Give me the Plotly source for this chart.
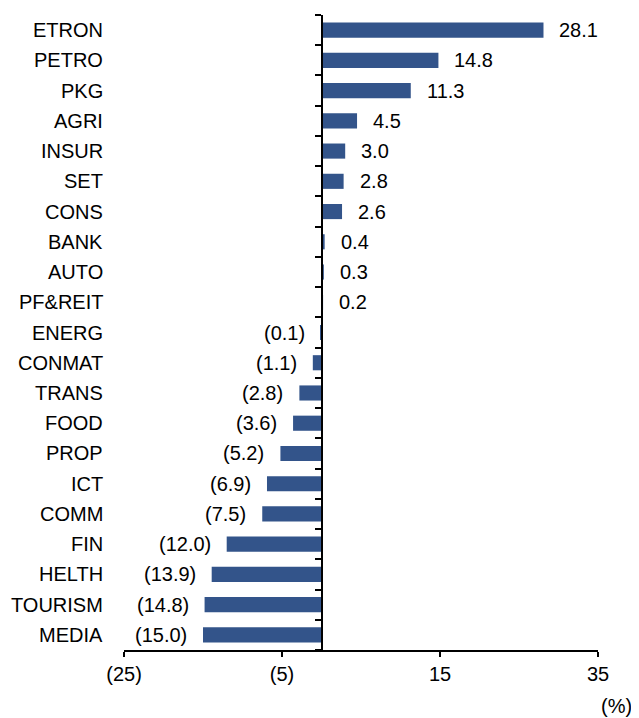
import plotly.graph_objects as go

sectors = ["ETRON", "PETRO", "PKG", "AGRI", "INSUR", "SET", "CONS", "BANK", "AUTO", "PF&REIT",
           "ENERG", "CONMAT", "TRANS", "FOOD", "PROP", "ICT", "COMM", "FIN", "HELTH", "TOURISM", "MEDIA"]
returns = [28.1, 14.8, 11.3, 4.5, 3.0, 2.8, 2.6, 0.4, 0.3, 0.2,
           -0.1, -1.1, -2.8, -3.6, -5.2, -6.9, -7.5, -12.0, -13.9, -14.8, -15.0]
x_ticks = [-25, -5, 15, 35]
x_ticktext = ["(25)", "(5)", "15", "35"]

font = dict(family="Liberation Sans, Arial", size=20, color="black")


def fmt(v):
    return f"({abs(v):.1f})" if v < 0 else f"{v:.1f}"


fig = go.Figure(go.Bar(x=returns, y=sectors, orientation="h",
                       marker=dict(color="#33548A", line=dict(width=0))))

ann = []
for s, v in zip(sectors, returns):
    ann.append(dict(x=v, y=s, xref="x", yref="y", text=fmt(v), showarrow=False,
                    xanchor="left" if v >= 0 else "right", xshift=14 if v >= 0 else -14, font=font))
    ann.append(dict(x=0, y=s, xref="paper", yref="y", text=s, showarrow=False,
                    xanchor="right", xshift=-19, font=font))
ann.append(dict(x=1.038, y=-0.088, xref="paper", yref="paper", text="(%)", showarrow=False,
                xanchor="center", yanchor="middle", font=font))

# page body has an 8px margin, so the figure is 8px smaller than the window
fig.update_layout(
    width=631, height=710,
    margin=dict(l=116, r=41, t=7, b=68),
    plot_bgcolor="white", paper_bgcolor="white",
    bargap=0.5, showlegend=False, font=font,
    annotations=ann,
    xaxis=dict(range=[-25, 35], tickvals=x_ticks, ticktext=x_ticktext, showgrid=False, zeroline=False,
               showline=True, linecolor="black", linewidth=2, ticks="outside", ticklen=5,
               tickwidth=2, tickcolor="black", tickfont=font),
    yaxis=dict(categoryorder="array", categoryarray=sectors[::-1], showticklabels=False,
               anchor="free", position=25 / 60, showline=True, linecolor="black", linewidth=2,
               ticks="outside", tickson="boundaries", ticklen=6, tickwidth=2, tickcolor="black",
               showgrid=False, zeroline=False),
)

fig.write_html("out.html")
